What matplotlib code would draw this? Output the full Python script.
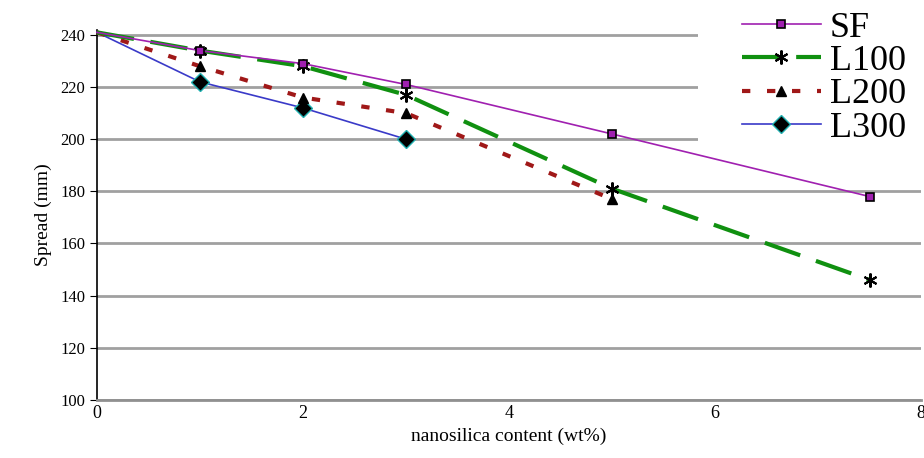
import matplotlib.pyplot as plt
from matplotlib.patches import Rectangle

plt.rcParams['font.family'] = ['Liberation Serif', 'DejaVu Serif']

# nanosilica content (wt%) and spread (mm)
sf_x = [0, 1, 2, 3, 5, 7.5]
sf_y = [241, 234, 229, 221, 202, 178]
l100_x = [0, 1, 2, 3, 5, 7.5]
l100_y = [241, 234, 228, 217, 181, 146]
l200_x = [0, 1, 2, 3, 5]
l200_y = [241, 228, 216, 210, 177]
l300_x = [0, 1, 2, 3]
l300_y = [241, 222, 212, 200]

fig = plt.figure(figsize=(9.24, 4.58), dpi=100)
ax = fig.add_axes([0.105, 0.127, 0.892, 0.808])

ax.plot(l300_x, l300_y, color='#3a3ac8', lw=1.2, marker='D', ms=9,
        mfc='black', mec='#20b0b0', mew=1, markevery=range(1, len(l300_x)),
        label='L300', clip_on=False, zorder=3)
ax.plot(l200_x, l200_y, color='#a01818', lw=3, ls=(0, (2, 4)), marker='^', ms=7,
        mfc='black', mec='black', markevery=range(1, len(l200_x)),
        label='L200', clip_on=False, zorder=4)
ax.plot(l100_x, l100_y, color='#109010', lw=3, ls=(0, (9, 4)), marker=(6, 2, 0), ms=10,
        mfc='black', mec='black', mew=1.5, markevery=range(1, len(l100_x)),
        label='L100', clip_on=False, zorder=5)
ax.plot(sf_x, sf_y, color='#a020b0', lw=1.2, marker='s', ms=5.5,
        mfc='#a020b0', mec='black', mew=1.2, markevery=range(1, len(sf_x)),
        label='SF', clip_on=False, zorder=6)

ax.set_xlim(0, 8)
ax.set_ylim(100, 242)
ax.set_xticks([0, 2, 4, 6, 8])
ax.set_yticks(range(100, 241, 20))
ax.yaxis.grid(True, color='#a0a0a0', lw=2)
ax.set_axisbelow(True)
for s in ['top', 'right']:
    ax.spines[s].set_visible(False)
ax.spines['left'].set_linewidth(1.2)
ax.spines['bottom'].set_color('#909090')
ax.spines['bottom'].set_linewidth(2)
ax.tick_params(axis='y', length=5, labelsize=12)
ax.tick_params(axis='x', length=0, labelsize=13, pad=4)
ax.set_xlabel('nanosilica content (wt%)', fontsize=14, labelpad=4)
ax.set_ylabel('Spread (mm)', fontsize=14, labelpad=6)

# white legend area hiding the upper gridlines
ax.add_patch(Rectangle((698 / 924, 1 - 143 / 458), 1, 1, transform=fig.transFigure,
                       facecolor='white', edgecolor='none', zorder=1, clip_on=False))

handles, labels = ax.get_legend_handles_labels()
order = [3, 2, 1, 0]
leg = fig.legend([handles[i] for i in order], [labels[i] for i in order],
                 loc='upper right', bbox_to_anchor=(1.008, 1.03), frameon=False,
                 fontsize=26, handlelength=2.2, handletextpad=0.25,
                 labelspacing=0.0, borderpad=0.2)

fig.savefig('out.png', dpi=100)
